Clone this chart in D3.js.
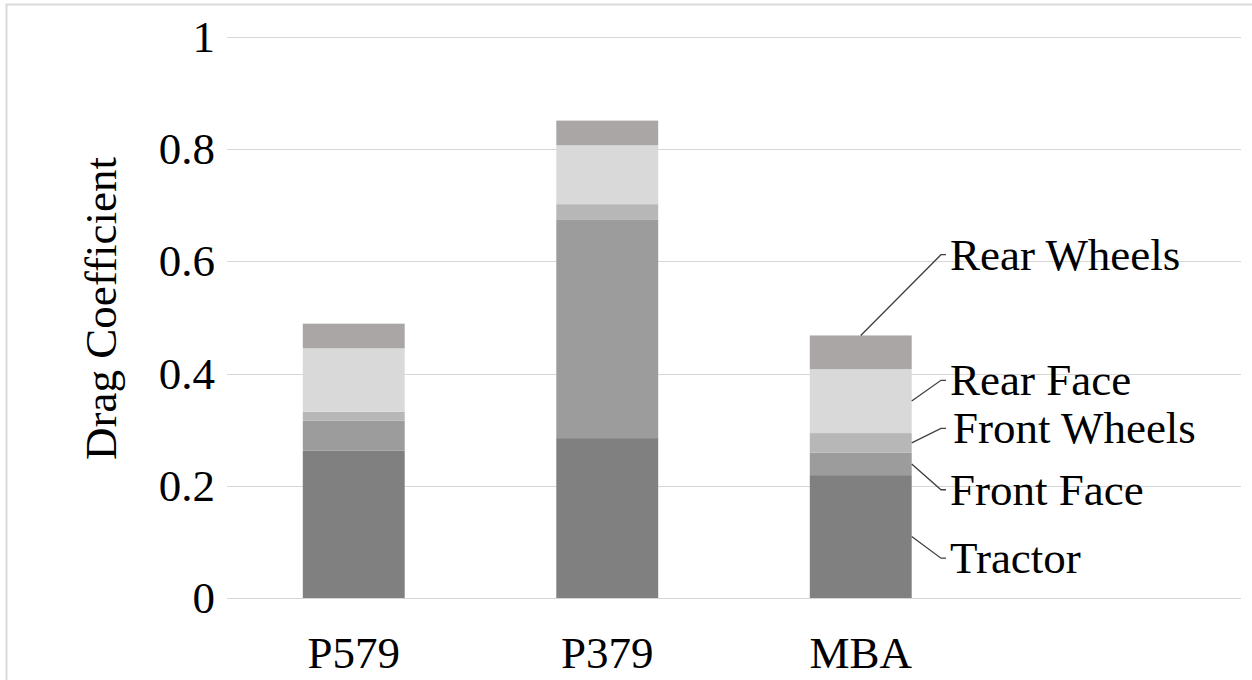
<!DOCTYPE html>
<html>
<head>
<meta charset="utf-8">
<script src="https://cdn.jsdelivr.net/npm/d3@7"></script>
<style>
  html, body { margin: 0; padding: 0; background: #fff; }
  svg { display: block; }
  text { font-family: "Liberation Serif", "Times New Roman", serif; fill: #000; }
</style>
</head>
<body>
<svg id="chart" width="1252" height="680"></svg>
<script>
// ---- data ----
const categories = ["P579", "P379", "MBA"];
const seriesNames = ["Tractor", "Front Face", "Front Wheels", "Rear Face", "Rear Wheels"];
const tractor     = [0.263, 0.285, 0.219];
const frontFace   = [0.053, 0.390, 0.040];
const frontWheels = [0.016, 0.027, 0.035];
const rearFace    = [0.113, 0.105, 0.114];
const rearWheels  = [0.044, 0.044, 0.060];
const yTicks = [0, 0.2, 0.4, 0.6, 0.8, 1];
const yTickLabels = ["0", "0.2", "0.4", "0.6", "0.8", "1"];
const yTitle = "Drag Coefficient";

// ---- styles / layout ----
const colors = ["#808080", "#9c9c9c", "#b7b7b7", "#d9d9d9", "#aba6a6"];
const W = 1252, H = 680;
const plot = { left: 227, right: 1241, top: 37, bottom: 598 };
const fontSize = 45;
// label anchors (value-space y for the text's vertical centre) for the MBA data labels
const labelY = [0.071, 0.193, 0.3025, 0.388, 0.612];
const labelX = 950;

const svg = d3.select("#chart");

// chart area border
svg.append("path")
  .attr("d", `M6.5,${H} V4.5 H${W}`)
  .attr("fill", "none").attr("stroke", "#d9d9d9").attr("stroke-width", 2);

const seriesArrays = [tractor, frontFace, frontWheels, rearFace, rearWheels];
const table = categories.map((c, i) => {
  const row = { cat: c };
  seriesNames.forEach((s, j) => row[s] = seriesArrays[j][i]);
  return row;
});

const x = d3.scaleBand()
  .domain([...categories, "__blank"])
  .range([plot.left, plot.right])
  .paddingInner(0.598).paddingOuter(0.299);
const y = d3.scaleLinear().domain([0, 1]).range([plot.bottom, plot.top]);

// gridlines
svg.append("g")
  .selectAll("line").data(yTicks).join("line")
  .attr("x1", plot.left).attr("x2", plot.right)
  .attr("y1", d => Math.round(y(d)) + 0.5).attr("y2", d => Math.round(y(d)) + 0.5)
  .attr("stroke", "#d6d6d6").attr("stroke-width", 1);

// y axis labels
const yAxis = d3.axisLeft(y).tickValues(yTicks)
  .tickFormat((d, i) => yTickLabels[i]).tickSize(0).tickPadding(12);
const yg = svg.append("g").attr("transform", `translate(${plot.left},0)`).call(yAxis);
yg.select(".domain").remove();
yg.selectAll("text").style("font-size", fontSize + "px")
  .style("font-family", '"Liberation Serif", "Times New Roman", serif').attr("fill", "#000");

// x axis labels
const xAxis = d3.axisBottom(x).tickValues(categories).tickSize(0).tickPadding(38);
const xg = svg.append("g").attr("transform", `translate(0,${plot.bottom})`).call(xAxis);
xg.select(".domain").remove();
xg.selectAll("text").style("font-size", fontSize + "px")
  .style("font-family", '"Liberation Serif", "Times New Roman", serif').attr("fill", "#000");

// stacked bars
const stack = d3.stack().keys(seriesNames)(table);
svg.append("g").selectAll("g").data(stack).join("g")
  .attr("fill", (d, i) => colors[i])
  .selectAll("rect").data(d => d).join("rect")
  .attr("x", d => x(d.data.cat))
  .attr("width", x.bandwidth())
  .attr("y", d => y(d[1]))
  .attr("height", d => y(d[0]) - y(d[1]));

// y title
svg.append("text")
  .attr("transform", `translate(116,${(plot.top + plot.bottom) / 2 - 9}) rotate(-90)`)
  .attr("text-anchor", "middle")
  .style("font-size", fontSize + "px")
  .text(yTitle);

// data labels with leader lines for MBA
const mbaIdx = categories.indexOf("MBA");
const bx0 = x("MBA"), bx1 = x("MBA") + x.bandwidth();
const lg = svg.append("g");
stack.forEach((s, j) => {
  const d = s[mbaIdx];
  const ly = y(labelY[j]);
  let sx, sy;
  if (j === seriesNames.length - 1) {
    sx = (bx0 + bx1) / 2; sy = y(d[1]);
  } else {
    sx = bx1; sy = y((d[0] + d[1]) / 2);
  }
  const elbowX = labelX - 9;
  lg.append("path")
    .attr("d", `M${sx},${sy} L${elbowX},${ly} H${labelX - 4}`)
    .attr("fill", "none").attr("stroke", "#404040").attr("stroke-width", 1.3);
  lg.append("text")
    .attr("x", labelX + (seriesNames[j] === "Front Wheels" ? 3 : 0))
    .attr("y", ly)
    .attr("dy", "0.33em")
    .style("font-size", fontSize + "px")
    .text(seriesNames[j]);
});
</script>
</body>
</html>
